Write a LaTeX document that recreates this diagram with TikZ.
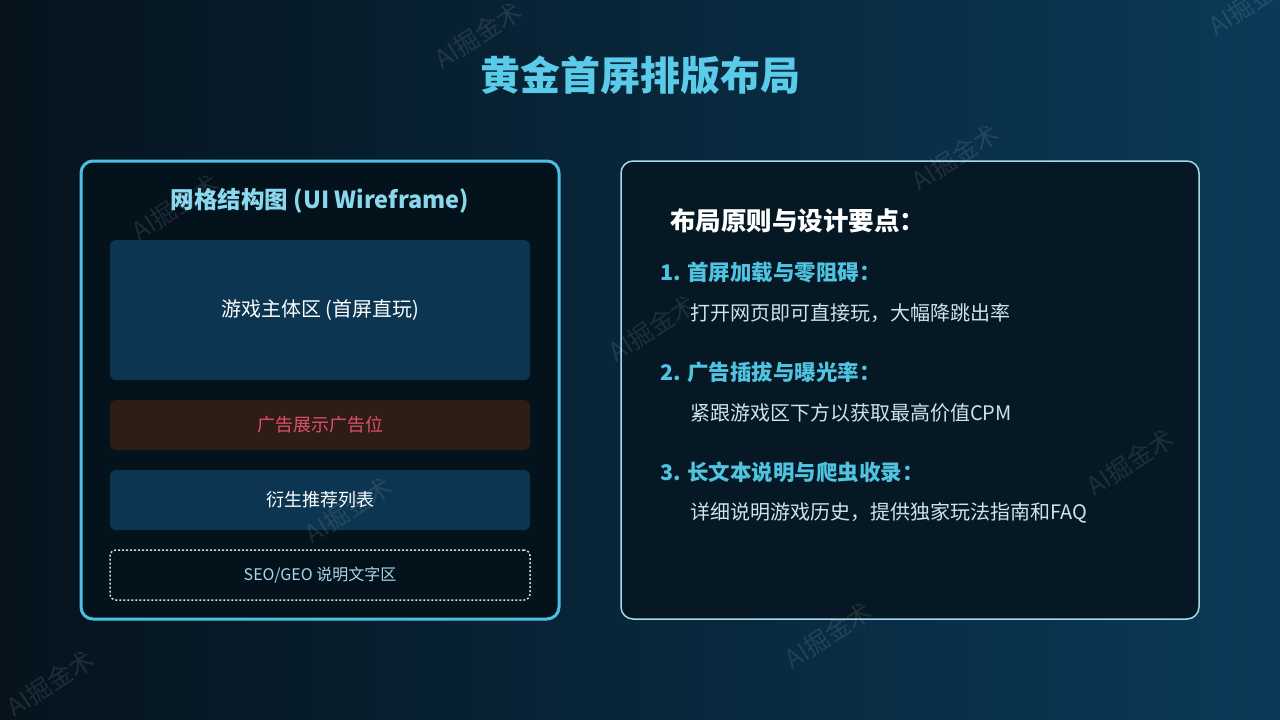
\documentclass[tikz,border=0pt]{standalone}
\usepackage{fontspec}
\setmainfont{Noto Sans CJK SC}
\usetikzlibrary{positioning}

\definecolor{bgleft}{HTML}{06131D}
\definecolor{bgright}{HTML}{0A3A58}
\definecolor{titlecyan}{HTML}{5ACBE8}
\definecolor{framecyan}{HTML}{4CC0E0}
\definecolor{panelfill}{HTML}{04121C}
\definecolor{blockblue}{HTML}{0B3550}
\definecolor{adbrown}{HTML}{2E1C16}
\definecolor{adred}{HTML}{E0506A}
\definecolor{seoline}{HTML}{C0E2F0}
\definecolor{seotext}{HTML}{A8D8EA}
\definecolor{headcyan}{HTML}{8AD8EE}
\definecolor{notefill}{HTML}{051824}
\definecolor{noteline}{HTML}{A8D8E8}
\definecolor{itemcyan}{HTML}{4FC3E0}
\definecolor{bodytext}{HTML}{CFE3EC}

\tikzset{
  block/.style={rounded corners=6pt, inner sep=0pt, minimum width=420pt},
  item/.style={anchor=west, inner sep=0pt, text=itemcyan, font=\fontsize{21.5}{26}\selectfont\bfseries},
  detail/.style={anchor=west, inner sep=0pt, text=bodytext, font=\fontsize{20}{24}\selectfont},
  watermark/.style={text=white, opacity=0.1, rotate=33, font=\fontsize{25}{30}\selectfont}
}

\begin{document}
\begin{tikzpicture}[x=1pt, y=-1pt]
	% Fill background
	\useasboundingbox (0,0) rectangle (1280,720);
	\shade[left color=bgleft, right color=bgright] (0,0) rectangle (1280,720);

	% Title
	\node[text=titlecyan, font=\fontsize{40}{48}\selectfont\bfseries] (title) at (640,75) {黄金首屏排版布局};

	% Define coordinates
	% corners of the wireframe panel (left) and of the notes panel (right)
	\coordinate (L1) at (81,161);
	\coordinate (L2) at (559,619);
	\coordinate (R1) at (621,161);
	\coordinate (R2) at (1199,619);

	% Draw both panels
	\draw[framecyan, fill=panelfill, line width=3pt, rounded corners=12pt] (L1) rectangle (L2);
	\draw[noteline, fill=notefill, line width=1.5pt, rounded corners=12pt] (R1) rectangle (R2);

	% Wireframe panel: header and blocks
	\node[text=headcyan, font=\fontsize{23.5}{28}\selectfont\bfseries] (grid) at (320,201) {网格结构图 (UI Wireframe)};
	\node[block, fill=blockblue, minimum height=140pt, text=white, font=\fontsize{20}{24}\selectfont] (game) at (320,310) {游戏主体区 (首屏直玩)};
	\node[block, fill=adbrown, minimum height=50pt, text=adred, font=\fontsize{18}{22}\selectfont] (ad) at (320,425) {广告展示广告位};
	\node[block, fill=blockblue, minimum height=60pt, text=white, font=\fontsize{18}{22}\selectfont] (list) at (320,500) {衍生推荐列表};
	\node[block, draw=seoline, line width=1.5pt, dash pattern=on 2pt off 2pt, minimum height=50pt, text=seotext, font=\fontsize{16}{20}\selectfont] (seo) at (320,575) {SEO/GEO 说明文字区};

	% Notes panel: heading and three points
	\node[anchor=west, inner sep=0pt, text=white, font=\fontsize{25.5}{30}\selectfont\bfseries] (rules) at (670,221) {布局原则与设计要点：};
	\node[item] (p1) at (660,272) {1. 首屏加载与零阻碍：};
	\node[detail] (d1) at (690,313) {打开网页即可直接玩，大幅降跳出率};
	\node[item] (p2) at (660,372) {2. 广告插拔与曝光率：};
	\node[detail] (d2) at (690,413) {紧跟游戏区下方以获取最高价值CPM};
	\node[item] (p3) at (660,472) {3. 长文本说明与爬虫收录：};
	\node[detail] (d3) at (690,513) {详细说明游戏历史，提供独家玩法指南和FAQ};

	% Watermarks
	\foreach \wx/\wy in {478/35, 175/207, 652/328, 955/157, 348/510, 1130/462, 828/635, 50/683, 1252/2} {
		\node[watermark] at (\wx,\wy) {AI掘金术};
	}
\end{tikzpicture}
\end{document}
